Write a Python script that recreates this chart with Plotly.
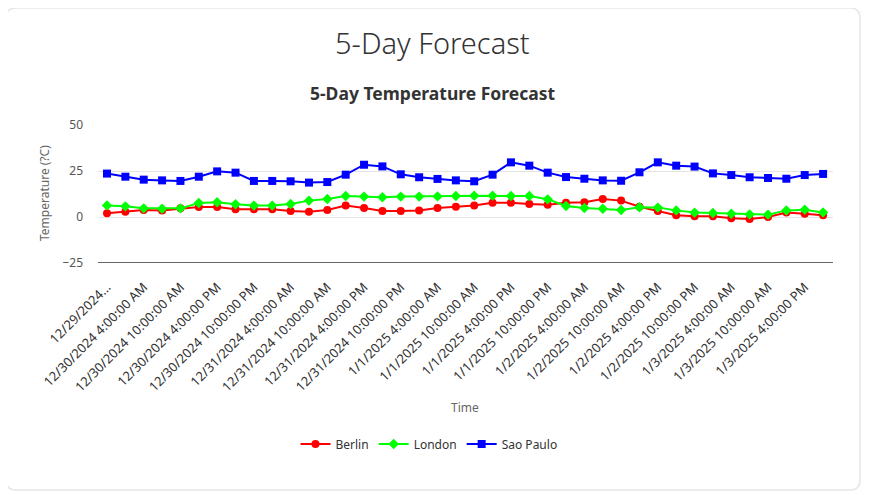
import plotly.graph_objects as go

times = [
    "12/29/2024 10:00:00 PM", "12/30/2024 1:00:00 AM", "12/30/2024 4:00:00 AM", "12/30/2024 7:00:00 AM",
    "12/30/2024 10:00:00 AM", "12/30/2024 1:00:00 PM", "12/30/2024 4:00:00 PM", "12/30/2024 7:00:00 PM",
    "12/30/2024 10:00:00 PM", "12/31/2024 1:00:00 AM", "12/31/2024 4:00:00 AM", "12/31/2024 7:00:00 AM",
    "12/31/2024 10:00:00 AM", "12/31/2024 1:00:00 PM", "12/31/2024 4:00:00 PM", "12/31/2024 7:00:00 PM",
    "12/31/2024 10:00:00 PM", "1/1/2025 1:00:00 AM", "1/1/2025 4:00:00 AM", "1/1/2025 7:00:00 AM",
    "1/1/2025 10:00:00 AM", "1/1/2025 1:00:00 PM", "1/1/2025 4:00:00 PM", "1/1/2025 7:00:00 PM",
    "1/1/2025 10:00:00 PM", "1/2/2025 1:00:00 AM", "1/2/2025 4:00:00 AM", "1/2/2025 7:00:00 AM",
    "1/2/2025 10:00:00 AM", "1/2/2025 1:00:00 PM", "1/2/2025 4:00:00 PM", "1/2/2025 7:00:00 PM",
    "1/2/2025 10:00:00 PM", "1/3/2025 1:00:00 AM", "1/3/2025 4:00:00 AM", "1/3/2025 7:00:00 AM",
    "1/3/2025 10:00:00 AM", "1/3/2025 1:00:00 PM", "1/3/2025 4:00:00 PM", "1/3/2025 7:00:00 PM",
]

tick_labels = [
    "12/29/2024...", "12/30/2024 4:00:00 AM", "12/30/2024 10:00:00 AM", "12/30/2024 4:00:00 PM",
    "12/30/2024 10:00:00 PM", "12/31/2024 4:00:00 AM", "12/31/2024 10:00:00 AM", "12/31/2024 4:00:00 PM",
    "12/31/2024 10:00:00 PM", "1/1/2025 4:00:00 AM", "1/1/2025 10:00:00 AM", "1/1/2025 4:00:00 PM",
    "1/1/2025 10:00:00 PM", "1/2/2025 4:00:00 AM", "1/2/2025 10:00:00 AM", "1/2/2025 4:00:00 PM",
    "1/2/2025 10:00:00 PM", "1/3/2025 4:00:00 AM", "1/3/2025 10:00:00 AM", "1/3/2025 4:00:00 PM",
]

berlin = [2.0, 2.9, 3.8, 3.6, 4.7, 5.4, 5.4, 4.2, 4.2, 4.2,
          3.3, 2.9, 3.8, 6.2, 4.9, 3.3, 3.3, 3.6, 4.9, 5.6,
          6.3, 7.8, 7.8, 7.1, 6.7, 7.8, 8.0, 9.8, 8.9, 5.6,
          3.3, 0.9, 0.4, 0.4, -0.7, -1.1, 0.0, 2.4, 1.8, 0.9]
london = [6.3, 5.8, 4.7, 4.5, 4.7, 7.6, 8.0, 6.9, 6.2, 6.2,
          7.1, 8.9, 9.8, 11.4, 11.1, 10.7, 11.1, 11.1, 11.2, 11.4,
          11.6, 11.6, 11.4, 11.4, 9.6, 6.0, 4.9, 4.5, 3.8, 5.3,
          5.1, 3.6, 2.4, 2.2, 1.8, 1.4, 1.3, 3.6, 4.0, 2.5]
sao_paulo = [23.6, 21.9, 20.3, 19.9, 19.6, 21.9, 24.8, 24.1, 19.6, 19.6,
             19.4, 18.7, 19.0, 23.0, 28.4, 27.5, 23.2, 21.6, 20.7, 19.9,
             19.4, 23.0, 29.7, 27.9, 24.1, 21.7, 20.8, 19.9, 19.7, 24.3,
             29.7, 27.9, 27.4, 23.7, 22.8, 21.6, 21.2, 20.8, 22.8, 23.4]

OFF = 8  # page body margin
W, H = 872 - OFF, 495 - OFF
L, R, T, B = 98 - OFF, 833 - OFF, 125 - OFF, 263 - OFF  # plot area in figure pixels
pw, ph = R - L, B - T


def px(x):  # screen pixel -> paper
    return (x - OFF - L) / pw


def py(y):
    return (B - (y - OFF)) / ph


FONT = "Noto Sans, Open Sans, sans-serif"

fig = go.Figure()
fig.add_trace(go.Scatter(x=times, y=berlin, name="Berlin", mode="lines+markers",
                         line=dict(color="#ff0000", width=2),
                         marker=dict(symbol="circle", size=8, color="#ff0000")))
fig.add_trace(go.Scatter(x=times, y=london, name="London", mode="lines+markers",
                         line=dict(color="#00ff00", width=2),
                         marker=dict(symbol="diamond", size=8, color="#00ff00")))
fig.add_trace(go.Scatter(x=times, y=sao_paulo, name="Sao Paulo", mode="lines+markers",
                         line=dict(color="#0000ff", width=2),
                         marker=dict(symbol="square", size=8, color="#0000ff")))

# rounded card outline
x0, x1, y0, y1 = 6, 860, 8, 490
r = 10
path = (f"M {px(x0 + r)},{py(y0)} L {px(x1 - r)},{py(y0)} "
        f"Q {px(x1)},{py(y0)} {px(x1)},{py(y0 + r)} "
        f"L {px(x1)},{py(y1 - r)} Q {px(x1)},{py(y1)} {px(x1 - r)},{py(y1)} "
        f"L {px(x0 + r)},{py(y1)} Q {px(x0)},{py(y1)} {px(x0)},{py(y1 - r)} "
        f"L {px(x0)},{py(y0 + r)} Q {px(x0)},{py(y0)} {px(x0 + r)},{py(y0)} Z")
shapes = [
    dict(type="path", xref="paper", yref="paper", path=path,
         line=dict(color="#e6e6e6", width=1.5), fillcolor="white", layer="below"),
    dict(type="rect", xref="paper", yref="paper", x0=px(869), x1=px(873), y0=py(0), y1=py(495),
         line=dict(width=0), fillcolor="#8a8a8a", layer="below"),
]

annotations = [
    dict(text="5-Day Forecast", x=px(432), y=py(42), xref="paper", yref="paper",
         showarrow=False, xanchor="center", yanchor="middle",
         font=dict(family=FONT, size=29, color="#333333", weight=300)),
    dict(text="<b>5-Day Temperature Forecast</b>", x=px(432), y=py(93), xref="paper", yref="paper",
         showarrow=False, xanchor="center", yanchor="middle",
         font=dict(family=FONT, size=17.5, color="#333333")),
    dict(text="Time", x=px(465), y=py(408), xref="paper", yref="paper",
         showarrow=False, xanchor="center", yanchor="middle",
         font=dict(family=FONT, size=12, color="#666666")),
    dict(text="Temperature (?C)", x=px(44), y=py(193), xref="paper", yref="paper",
         showarrow=False, xanchor="center", yanchor="middle", textangle=-90,
         font=dict(family=FONT, size=12, color="#666666")),
]

fig.update_layout(
    width=W, height=H,
    margin=dict(l=L, r=W - R, t=T, b=H - B, autoexpand=False),
    paper_bgcolor="white", plot_bgcolor="white",
    font=dict(family=FONT, size=12, color="#333333"),
    showlegend=True,
    legend=dict(orientation="h", x=px(429), y=py(444), xanchor="center", yanchor="middle",
                font=dict(family=FONT, size=12, color="#333333"), itemwidth=30,
                tracegroupgap=0),
    shapes=shapes, annotations=annotations,
    xaxis=dict(type="category", range=[-0.49, 39.54],
               tickmode="array", tickvals=times[::2], ticktext=tick_labels,
               tickangle=-45, showgrid=False, zeroline=False,
               showline=False, ticks="", ticklabelstandoff=13,
               tickfont=dict(family=FONT, size=13, color="#333333")),
    yaxis=dict(range=[-25, 50], tickvals=[-25, 0, 25, 50], showgrid=True,
               gridcolor="#e4e4e4", gridwidth=1, zeroline=False,
               showline=False, ticks="", ticklabelstandoff=14,
               tickfont=dict(family=FONT, size=12, color="#555555")),
)

# bottom axis line at -25
fig.add_shape(type="line", xref="paper", yref="y", x0=0, x1=1, y0=-25, y1=-25,
              line=dict(color="#333333", width=1.5))

fig.write_html("out.html")
